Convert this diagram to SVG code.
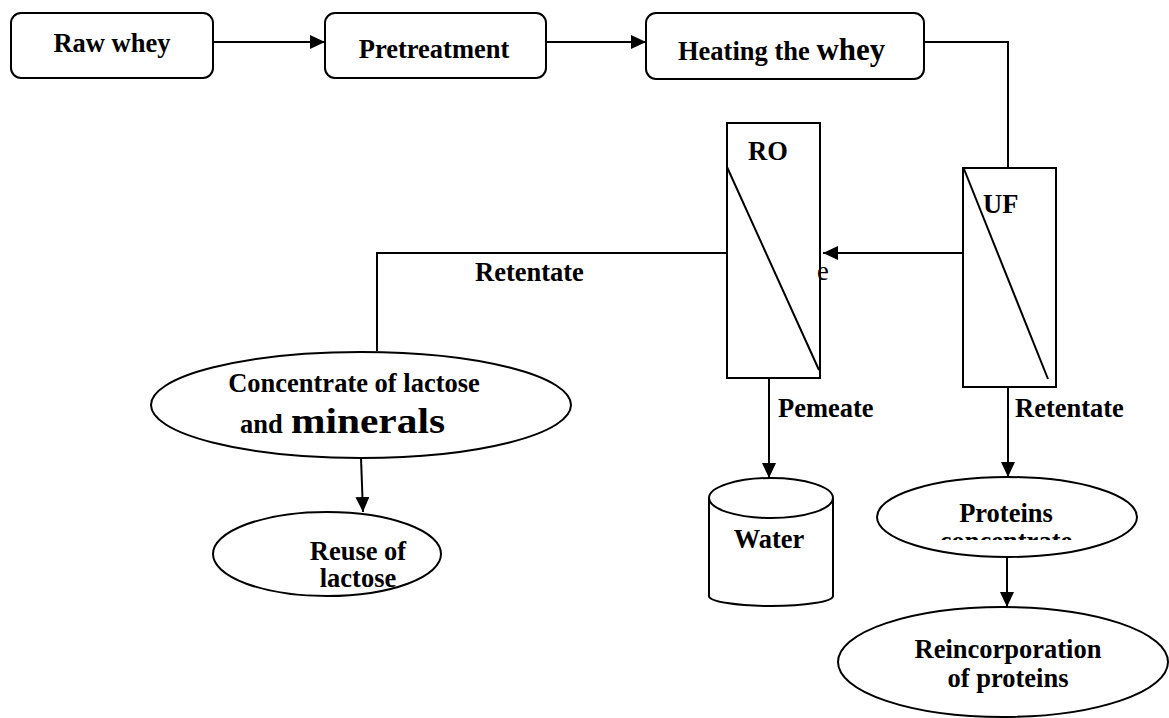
<svg xmlns="http://www.w3.org/2000/svg" width="1169" height="718" viewBox="0 0 1169 718">
<style>
.box{fill:#fff;stroke:#000;stroke-width:2}
.ln{fill:none;stroke:#000;stroke-width:2}
.t{font-family:"Liberation Serif","Times New Roman",serif;font-weight:bold;font-size:26.5px;fill:#000}
.r{font-family:"Liberation Serif","Times New Roman",serif;font-size:26.5px;fill:#000}
.m{text-anchor:middle}
</style>
<defs>
<marker id="ah" markerWidth="16" markerHeight="14" refX="15" refY="7" orient="auto" markerUnits="userSpaceOnUse">
<path d="M0,0 L15,7 L0,14 Z" fill="#000"/>
</marker>
<clipPath id="clipConc"><rect x="870" y="520" width="280" height="20"/></clipPath>
</defs>
<rect width="1169" height="718" fill="#fff"/>
<g id="connectors">
<line class="ln" x1="213" y1="42" x2="325" y2="42" marker-end="url(#ah)"/>
<line class="ln" x1="546" y1="42" x2="646" y2="42" marker-end="url(#ah)"/>
<polyline class="ln" points="924,42 1008,42 1008,168"/>
<line class="ln" x1="963" y1="253" x2="823" y2="253" marker-end="url(#ah)"/>
<polyline class="ln" points="727,253 377,253 377,351"/>
<line class="ln" x1="361" y1="458" x2="363" y2="512" marker-end="url(#ah)"/>
<line class="ln" x1="769" y1="378" x2="769" y2="478" marker-end="url(#ah)"/>
<line class="ln" x1="1008" y1="387" x2="1008" y2="477" marker-end="url(#ah)"/>
<line class="ln" x1="1007" y1="558" x2="1007" y2="607" marker-end="url(#ah)"/>
<text class="t" x="475" y="281">Retentate</text>
<text class="t" x="778" y="417">Pemeate</text>
<text class="t" x="1015" y="417">Retentate</text>
</g>
<g id="raw-whey">
<rect class="box" x="11" y="13" width="202" height="65" rx="10"/>
<text class="t m" x="112" y="52">Raw whey</text>
</g>
<g id="pretreatment">
<rect class="box" x="325" y="13" width="221" height="65" rx="10"/>
<text class="t m" x="434" y="58">Pretreatment</text>
</g>
<g id="heating">
<rect class="box" x="646" y="13" width="278" height="66" rx="10"/>
<text class="t" x="678" y="60">Heating the <tspan font-size="31">whey</tspan></text>
</g>
<g id="ro">
<text class="r" x="817" y="280">e</text>
<rect class="box" x="727" y="123" width="93" height="255" style="fill:none"/>
<line class="ln" x1="727" y1="167" x2="819" y2="370"/>
<text class="t" x="748" y="160">RO</text>
</g>
<g id="uf">
<rect class="box" x="963" y="168" width="93" height="219"/>
<line class="ln" x1="964" y1="169" x2="1048" y2="379"/>
<text class="t" x="983" y="213">UF</text>
</g>
<g id="concentrate">
<ellipse class="box" cx="361" cy="405" rx="210" ry="53"/>
<text class="t m" x="354" y="392">Concentrate of lactose</text>
<text class="t" x="240" y="433">and</text>
<text class="t" x="291" y="433" style="font-size:35px" textLength="154" lengthAdjust="spacingAndGlyphs">minerals</text>
</g>
<g id="reuse">
<ellipse class="box" cx="327" cy="554" rx="114" ry="42"/>
<text class="t m" x="358" y="560">Reuse of</text>
<text class="t m" x="358" y="587">lactose</text>
</g>
<g id="water">
<path class="box" d="M709,498 L709,596 A62,10 0 0 0 833,596 L833,498"/>
<ellipse class="box" cx="771" cy="498" rx="62" ry="20"/>
<text class="t m" x="769" y="548">Water</text>
</g>
<g id="proteins">
<ellipse class="box" cx="1007" cy="517" rx="130" ry="40"/>
<text class="t m" x="1006" y="522">Proteins</text>
<text class="t m" x="1006" y="550" clip-path="url(#clipConc)">concentrate</text>
</g>
<g id="reincorporation">
<ellipse class="box" cx="1003" cy="662" rx="165" ry="55"/>
<text class="t m" x="1008" y="658">Reincorporation</text>
<text class="t m" x="1008" y="687">of proteins</text>
</g>
</svg>
